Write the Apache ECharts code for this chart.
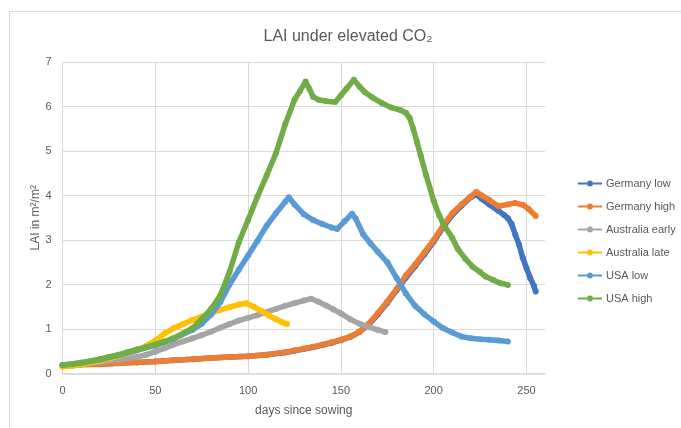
<!DOCTYPE html>
<html>
<head>
<meta charset="utf-8">
<script src="https://cdn.jsdelivr.net/npm/echarts@6/dist/echarts.min.js"></script>
<style>html,body{margin:0;padding:0;background:#fff;}#c{width:681px;height:428px;}</style>
</head>
<body>
<div id="c"></div>
<script>
var xTicks = [0, 50, 100, 150, 200, 250];
var yTicks = [0, 1, 2, 3, 4, 5, 6, 7];
var seriesNames = ['Germany low', 'Germany high', 'Australia early', 'Australia late', 'USA low', 'USA high'];

var germanyLowDays = [0,10,20,30,40,50,60,70,80,90,100,110,120,125,130,135,140,145,150,155,160,165,170,175,180,185,190,195,200,205,210,215,220,223,226,230,235,238,240,242,244,246,248,250,252,254,255];
var germanyLowLAI  = [0.18,0.2,0.21,0.23,0.25,0.27,0.30,0.32,0.35,0.37,0.39,0.42,0.47,0.51,0.55,0.59,0.64,0.69,0.75,0.82,0.93,1.10,1.33,1.59,1.87,2.15,2.41,2.68,2.96,3.28,3.56,3.77,3.96,4.02,3.92,3.80,3.65,3.56,3.49,3.36,3.12,2.90,2.60,2.37,2.15,1.97,1.84];

var germanyHighDays = [0,10,20,30,40,50,60,70,80,90,100,110,120,125,130,135,140,145,150,155,160,165,170,175,180,185,190,195,200,205,210,215,220,223,226,230,235,240,244,248,251,255];
var germanyHighLAI  = [0.18,0.2,0.21,0.23,0.25,0.27,0.30,0.32,0.35,0.37,0.39,0.42,0.48,0.52,0.56,0.60,0.65,0.70,0.76,0.83,0.94,1.12,1.36,1.62,1.90,2.20,2.45,2.72,3.00,3.32,3.60,3.80,3.98,4.08,4.00,3.90,3.76,3.80,3.83,3.79,3.70,3.54];

var ausEarlyDays = [0,10,20,30,40,45,50,55,60,65,70,75,80,85,90,95,100,105,110,115,120,125,130,134,138,142,146,150,155,160,165,170,174];
var ausEarlyLAI  = [0.17,0.21,0.26,0.31,0.37,0.42,0.49,0.57,0.65,0.72,0.79,0.86,0.94,1.03,1.11,1.19,1.25,1.31,1.38,1.45,1.52,1.58,1.64,1.68,1.61,1.53,1.44,1.35,1.22,1.12,1.04,0.98,0.93];

var ausLateDays = [0,5,10,15,20,25,30,35,40,45,50,55,60,65,70,75,80,85,90,95,99,103,107,111,115,118,121];
var ausLateLAI  = [0.15,0.17,0.20,0.24,0.28,0.33,0.39,0.45,0.52,0.62,0.74,0.90,1.02,1.11,1.20,1.28,1.36,1.43,1.49,1.55,1.58,1.50,1.41,1.31,1.22,1.16,1.11];

var usaLowDays = [0,10,20,30,40,50,60,70,75,80,85,90,95,100,105,110,115,120,122,125,130,135,140,145,148,152,156,158,162,166,170,175,180,185,190,195,200,205,210,215,220,225,230,235,240];
var usaLowLAI  = [0.19,0.24,0.31,0.41,0.52,0.63,0.78,0.98,1.12,1.32,1.60,2.00,2.33,2.65,2.98,3.32,3.60,3.86,3.96,3.80,3.58,3.45,3.36,3.28,3.25,3.42,3.59,3.48,3.13,2.92,2.73,2.50,2.15,1.80,1.52,1.33,1.17,1.02,0.92,0.83,0.79,0.77,0.76,0.74,0.72];

var usaHighDays = [0,5,10,15,20,25,30,35,40,45,50,55,60,65,70,75,80,85,90,95,100,105,110,115,120,125,128,131,133,135,138,142,147,150,153,157,160,163,167,172,177,182,185,187,189,191,193,196,200,203,206,210,213,217,221,225,228,232,236,240];
var usaHighLAI  = [0.19,0.21,0.24,0.28,0.32,0.37,0.42,0.48,0.54,0.59,0.65,0.72,0.80,0.90,1.02,1.22,1.45,1.75,2.28,2.95,3.45,3.97,4.45,4.95,5.60,6.15,6.35,6.56,6.40,6.22,6.15,6.12,6.10,6.25,6.40,6.60,6.45,6.32,6.20,6.08,5.98,5.92,5.86,5.75,5.50,5.20,4.90,4.45,3.88,3.55,3.30,3.05,2.80,2.58,2.40,2.28,2.18,2.10,2.03,1.99];

var colors = ['#4472C4', '#ED7D31', '#A5A5A5', '#FFC000', '#5B9BD5', '#70AD47'];

function pairs(d, v) { return d.map(function (x, i) { return [x, v[i]]; }); }
var allData = [
  pairs(germanyLowDays, germanyLowLAI),
  pairs(germanyHighDays, germanyHighLAI),
  pairs(ausEarlyDays, ausEarlyLAI),
  pairs(ausLateDays, ausLateLAI),
  pairs(usaLowDays, usaLowLAI),
  pairs(usaHighDays, usaHighLAI)
];

var FONT = 'Liberation Sans';
var TXT = '#595959';
var GRID = '#d9d9d9';
var LEGEND_ICON = 'path://M0,4.1h9.2v1.8h-9.2z M14.8,4.1h9.2v1.8h-9.2z M9,5a3,3 0 1,0 6,0a3,3 0 1,0 -6,0z';

var chart = echarts.init(document.getElementById('c'), null, { renderer: 'canvas' });
chart.setOption({
  animation: false,
  backgroundColor: '#fff',
  color: colors,
  title: {
    text: 'LAI under elevated CO\u2082',
    left: 343, top: 24, textAlign: 'center',
    textStyle: { fontFamily: FONT, fontSize: 16, fontWeight: 'normal', color: TXT }
  },
  graphic: [
    { type: 'line', shape: { x1: 9.5, y1: 11.5, x2: 681, y2: 11.5 }, style: { stroke: GRID, lineWidth: 1 }, silent: true },
    { type: 'line', shape: { x1: 9.5, y1: 11.5, x2: 9.5, y2: 428 }, style: { stroke: GRID, lineWidth: 1 }, silent: true }
  ],
  legend: {
    orient: 'vertical',
    left: 573, top: 173,
    itemWidth: 24, itemHeight: 14, itemGap: 12,
    data: seriesNames.map(function (n) { return { name: n, icon: LEGEND_ICON }; }),
    textStyle: { fontFamily: FONT, fontSize: 11, color: TXT, padding: [0, 0, 0, -1] }
  },
  grid: { left: 62.5, right: 136, top: 62, bottom: 54.5, containLabel: false },
  xAxis: {
    type: 'value', min: xTicks[0], max: 260, interval: 50,
    name: 'days since sowing', nameLocation: 'middle', nameGap: 31,
    nameTextStyle: { fontFamily: FONT, fontSize: 12, color: TXT },
    axisLine: { show: true, lineStyle: { color: GRID, width: 1.5 } },
    axisTick: { show: false },
    axisLabel: { fontFamily: FONT, fontSize: 11, color: TXT, margin: 12, showMaxLabel: false,
      formatter: function (v) { return xTicks.indexOf(v) >= 0 ? String(v) : ''; } },
    splitLine: { show: true, showMaxLine: false, lineStyle: { color: GRID, width: 1 } }
  },
  yAxis: {
    type: 'value', min: yTicks[0], max: yTicks[yTicks.length - 1], interval: 1,
    name: 'LAI in m\u00B2/m\u00B2', nameLocation: 'middle', nameGap: 21, nameRotate: 90,
    nameMoveOverlap: false,
    nameTextStyle: { fontFamily: FONT, fontSize: 12, color: TXT },
    axisLine: { show: false },
    axisTick: { show: false },
    axisLabel: { fontFamily: FONT, fontSize: 11, color: TXT, margin: 11 },
    splitLine: { show: true, lineStyle: { color: GRID, width: 1 } }
  },
  series: seriesNames.map(function (n, i) {
    return {
      name: n, type: 'line', data: allData[i],
      symbol: 'circle', symbolSize: 6, showSymbol: true,
      lineStyle: { width: 5.5, color: colors[i] },
      itemStyle: { color: colors[i] },
      z: 2 + i
    };
  })
});
</script>
</body>
</html>
